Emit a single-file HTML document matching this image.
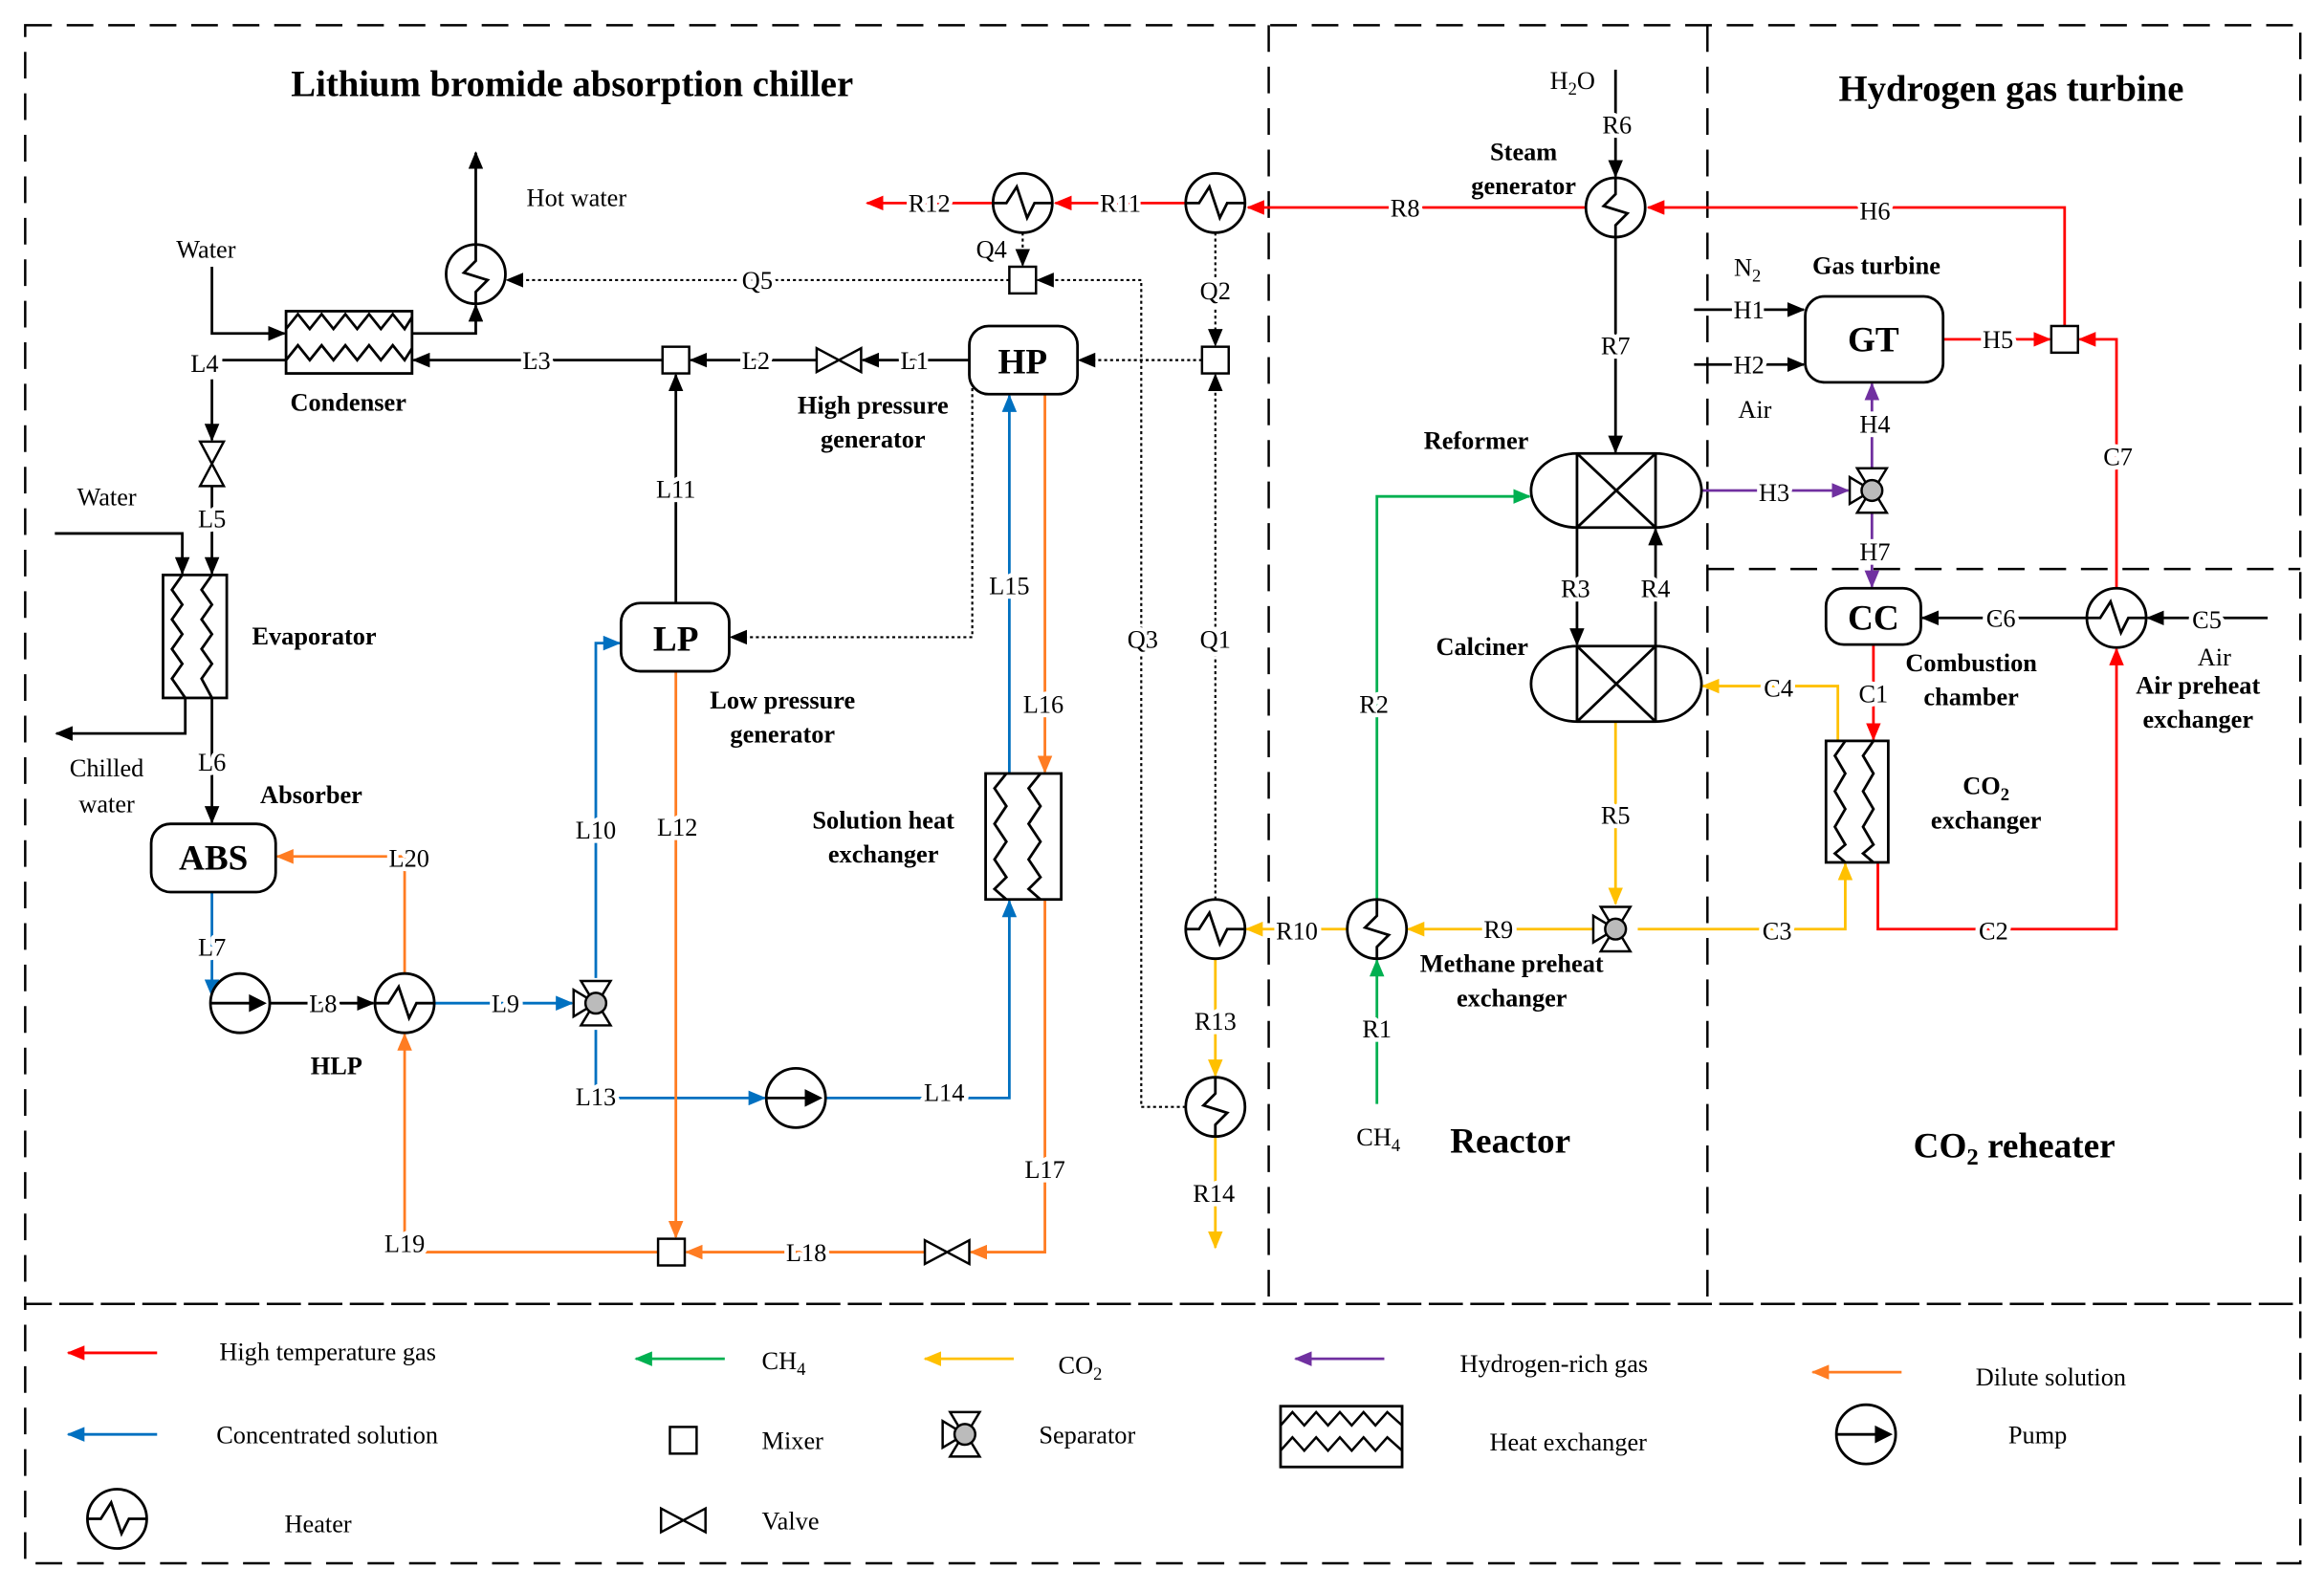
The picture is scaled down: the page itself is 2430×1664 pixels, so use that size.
<!DOCTYPE html>
<html><head><meta charset="utf-8"><style>
html,body{margin:0;padding:0;background:#fff}
svg{display:block}
text{font-family:"Liberation Serif",serif;font-size:17px;fill:#000}
.b{font-weight:bold}
.lb text{paint-order:stroke;stroke:#fff;stroke-width:6px;stroke-linejoin:round}
</style></head><body>
<svg width="2430" height="1664" viewBox="0 0 1568 1073.7" xmlns="http://www.w3.org/2000/svg">
<defs>
<marker id="ak" markerWidth="12" markerHeight="10" refX="11" refY="5" orient="auto" markerUnits="userSpaceOnUse"><path d="M0,0 L12,5 L0,10 Z" fill="#000"/></marker>
<marker id="ar" markerWidth="12" markerHeight="10" refX="11" refY="5" orient="auto" markerUnits="userSpaceOnUse"><path d="M0,0 L12,5 L0,10 Z" fill="#f00"/></marker>
<marker id="ab" markerWidth="12" markerHeight="10" refX="11" refY="5" orient="auto" markerUnits="userSpaceOnUse"><path d="M0,0 L12,5 L0,10 Z" fill="#0070c0"/></marker>
<marker id="ao" markerWidth="12" markerHeight="10" refX="11" refY="5" orient="auto" markerUnits="userSpaceOnUse"><path d="M0,0 L12,5 L0,10 Z" fill="#ff7c22"/></marker>
<marker id="ay" markerWidth="12" markerHeight="10" refX="11" refY="5" orient="auto" markerUnits="userSpaceOnUse"><path d="M0,0 L12,5 L0,10 Z" fill="#ffc000"/></marker>
<marker id="ag" markerWidth="12" markerHeight="10" refX="11" refY="5" orient="auto" markerUnits="userSpaceOnUse"><path d="M0,0 L12,5 L0,10 Z" fill="#00b050"/></marker>
<marker id="ap" markerWidth="12" markerHeight="10" refX="11" refY="5" orient="auto" markerUnits="userSpaceOnUse"><path d="M0,0 L12,5 L0,10 Z" fill="#7030a0"/></marker>
<g id="ht"><circle r="20" fill="#fff" stroke="#000" stroke-width="1.8"/><path d="M-20,0 H-11 L-4,-11 L3,10 L8,0 H20" fill="none" stroke="#000" stroke-width="1.8"/></g>
<g id="hs"><circle r="20" fill="#fff" stroke="#000" stroke-width="1.8"/><path d="M0,-20 L0,-9 L-8,-1 L8,4 L0,12 L0,20" fill="none" stroke="#000" stroke-width="1.8"/></g>
<g id="mx"><rect x="-9" y="-9" width="18" height="18" fill="#fff" stroke="#000" stroke-width="1.6"/></g>
<g id="vh"><path d="M-15,-8 L-15,8 L15,-8 L15,8 Z" fill="#fff" stroke="#000" stroke-width="1.6"/></g>
<g id="vv"><path d="M-8,-15 L8,-15 L-8,15 L8,15 Z" fill="#fff" stroke="#000" stroke-width="1.6"/></g>
<g id="sp"><path d="M-10,-15 L10,-15 L4,-5 L-4,-5 Z M-10,15 L10,15 L4,5 L-4,5 Z M-15,-9 L-15,9 L-5,3 L-5,-3 Z" fill="#fff" stroke="#000" stroke-width="1.6"/><circle r="7" fill="#bbb" stroke="#000" stroke-width="1.6"/></g>
<g id="pp"><circle r="20" fill="#fff" stroke="#000" stroke-width="1.8"/><path d="M-20,0 L8,0" stroke="#000" stroke-width="1.8"/><path d="M6,-6 L18,0 L6,6 Z" fill="#000"/></g>
</defs>
<g fill="none" stroke="#000" stroke-width="1.6" stroke-dasharray="18,10">
<rect x="17" y="17" width="1535" height="863"/>
<path d="M856,17 V880 M1152,17 V880 M1152,384 H1552"/>
<rect x="17" y="880" width="1535" height="175"/>
</g>
<g fill="none" stroke-width="1.8">
<g stroke="#f00">
<path d="M1393,220 V140 H1112" marker-end="url(#ar)"/>
<path d="M1070,140 H842" marker-end="url(#ar)"/>
<path d="M800,137 H712" marker-end="url(#ar)"/>
<path d="M670,137 H585" marker-end="url(#ar)"/>
<path d="M1311,229 H1383" marker-end="url(#ar)"/>
<path d="M1428,397 V229 H1403" marker-end="url(#ar)"/>
<path d="M1267,582 V627 H1428 V438" marker-end="url(#ar)"/>
<path d="M1264,435 V499" marker-end="url(#ar)"/>
</g>
<g stroke="#000">
<path d="M1090,47 V119" marker-end="url(#ak)"/>
<path d="M1090,160 V305" marker-end="url(#ak)"/>
<path d="M1064,356 V435" marker-end="url(#ak)"/>
<path d="M1117,436 V357" marker-end="url(#ak)"/>
<path d="M1408,417 H1297" marker-end="url(#ak)"/>
<path d="M1530,417 H1449" marker-end="url(#ak)"/>
<path d="M1143,209 H1217" marker-end="url(#ak)"/>
<path d="M1143,246 H1217" marker-end="url(#ak)"/>
<path d="M447,243 H279" marker-end="url(#ak)"/>
<path d="M551,243 H466" marker-end="url(#ak)"/>
<path d="M654,243 H582" marker-end="url(#ak)"/>
<path d="M456,407 V253" marker-end="url(#ak)"/>
<path d="M143,180 V225 H192" marker-end="url(#ak)"/>
<path d="M278,225 H321 V206" marker-end="url(#ak)"/>
<path d="M321,165 V103" marker-end="url(#ak)"/>
<path d="M193,243 H150"/>
<path d="M143,256 V297" marker-end="url(#ak)"/>
<path d="M143,328 V343 M143,356 V387" marker-end="url(#ak)"/>
<path d="M37,360 H123 V387" marker-end="url(#ak)"/>
<path d="M125,471 V495 H38" marker-end="url(#ak)"/>
<path d="M143,471 V555" marker-end="url(#ak)"/>
<path d="M182,677 H252" marker-end="url(#ak)"/>
</g>
<g stroke="#000" stroke-width="1.4" stroke-dasharray="2,2">
<path d="M820,157 V233" marker-end="url(#ak)"/>
<path d="M820,607 V253" marker-end="url(#ak)"/>
<path d="M811,243 H728" marker-end="url(#ak)"/>
<path d="M656,258 V430 H493" marker-end="url(#ak)"/>
<path d="M800,747 H770 V189 H700" marker-end="url(#ak)"/>
<path d="M690,157 V179" marker-end="url(#ak)"/>
<path d="M681,189 H342" marker-end="url(#ak)"/>
</g>
<g stroke="#0070c0">
<path d="M293,677 H386" marker-end="url(#ab)"/>
<path d="M143,602 V672" marker-end="url(#ab)"/>
<path d="M402,660 V434 H418" marker-end="url(#ab)"/>
<path d="M402,695 V741 H516" marker-end="url(#ab)"/>
<path d="M557,741 H681 V608" marker-end="url(#ab)"/>
<path d="M681,522 V267" marker-end="url(#ab)"/>
</g>
<g stroke="#ff7c22">
<path d="M705,266 V521" marker-end="url(#ao)"/>
<path d="M705,607 V845 H655" marker-end="url(#ao)"/>
<path d="M624,845 H463" marker-end="url(#ao)"/>
<path d="M456,453 V835" marker-end="url(#ao)"/>
<path d="M444,845 H273 V698" marker-end="url(#ao)"/>
<path d="M273,657 V578 H187" marker-end="url(#ao)"/>
</g>
<g stroke="#00b050">
<path d="M929,745 V648" marker-end="url(#ag)"/>
<path d="M929,607 V335 H1032" marker-end="url(#ag)"/>
</g>
<g stroke="#ffc000">
<path d="M820,647 V726" marker-end="url(#ay)"/>
<path d="M820,767 V842" marker-end="url(#ay)"/>
<path d="M1090,487 V610" marker-end="url(#ay)"/>
<path d="M1075,627 H950" marker-end="url(#ay)"/>
<path d="M909,627 H841" marker-end="url(#ay)"/>
<path d="M1105,627 H1245 V583" marker-end="url(#ay)"/>
<path d="M1240,500 V463 H1149" marker-end="url(#ay)"/>
</g>
<g stroke="#7030a0">
<path d="M1148,331 H1247" marker-end="url(#ap)"/>
<path d="M1263,316 V259" marker-end="url(#ap)"/>
<path d="M1263,346 V396" marker-end="url(#ap)"/>
</g>
</g>
<use href="#hs" x="321" y="185"/>
<use href="#ht" x="690" y="137"/>
<use href="#ht" x="820" y="137"/>
<use href="#hs" x="1090" y="140"/>
<use href="#ht" x="273" y="677"/>
<use href="#ht" x="820" y="627"/>
<use href="#hs" x="929" y="627"/>
<use href="#hs" x="820" y="747"/>
<use href="#ht" x="1428" y="417"/>
<use href="#mx" x="456" y="243"/>
<use href="#mx" x="690" y="189"/>
<use href="#mx" x="820" y="243"/>
<use href="#mx" x="1393" y="229"/>
<use href="#mx" x="453" y="845"/>
<use href="#vh" x="566" y="243"/>
<use href="#vv" x="143" y="313"/>
<use href="#vh" x="639" y="845"/>
<use href="#sp" x="402" y="677"/>
<use href="#sp" x="1090" y="627"/>
<use href="#sp" x="1263" y="331"/>
<use href="#pp" x="162" y="677"/>
<use href="#pp" x="537" y="741"/>
<g fill="#fff" stroke="#000" stroke-width="1.8">
<rect x="193" y="210" width="85" height="42"/>
<rect x="110" y="388" width="43" height="83"/>
<rect x="665" y="522" width="51" height="85"/>
<rect x="1232" y="500" width="42" height="82"/>
<rect x="654" y="220" width="73" height="46" rx="13"/>
<rect x="419" y="407" width="73" height="46" rx="13"/>
<rect x="102" y="556" width="84" height="46" rx="13"/>
<rect x="1218" y="200" width="93" height="58" rx="13"/>
<rect x="1232" y="397" width="64" height="38" rx="12"/>
<path d="M1064,306 H1117 A31,25 0 0 1 1117,356 H1064 A31,25 0 0 1 1064,306 Z"/>
<path d="M1064,436 H1117 A31,25.5 0 0 1 1117,487 H1064 A31,25.5 0 0 1 1064,436 Z"/>
</g>
<g fill="none" stroke="#000" stroke-width="1.8">
<path d="M1064,306 V356 M1117,306 V356 M1064,306 L1117,356 M1117,306 L1064,356"/>
<path d="M1064,436 V487 M1117,436 V487 M1064,436 L1117,487 M1117,436 L1064,487"/>
<path d="M193,222 L201,212 L209,222 L217,212 L225,222 L233,212 L241,222 L249,212 L257,222 L265,212 L273,222 L278,214"/>
<path d="M193,243 L201,233 L209,243 L217,233 L225,243 L233,233 L241,243 L249,233 L257,243 L265,233 L273,243 L278,235"/>
<path d="M123,388 L116,398 L123,408 L116,418 L123,428 L116,438 L123,448 L116,458 L125,471"/>
<path d="M143,388 L136,398 L143,408 L136,418 L143,428 L136,438 L143,448 L136,458 L143,471"/>
<path d="M679,522 L671,532 L679,544 L671,556 L679,568 L671,580 L679,592 L671,600 L679,607"/>
<path d="M702,522 L694,532 L702,544 L694,556 L702,568 L694,580 L702,592 L694,600 L702,607"/>
<path d="M1245,500 L1238,510 L1245,522 L1238,534 L1245,546 L1238,558 L1245,570 L1238,576 L1245,582"/>
<path d="M1264,500 L1257,510 L1264,522 L1257,534 L1264,546 L1257,558 L1264,570 L1257,576 L1264,582"/>
</g>
<g text-anchor="middle">
<text x="690" y="252" style="font-size:24px;font-weight:bold">HP</text>
<text x="456" y="439" style="font-size:24px;font-weight:bold">LP</text>
<text x="144" y="587" style="font-size:24px;font-weight:bold">ABS</text>
<text x="1264" y="237" style="font-size:24px;font-weight:bold">GT</text>
<text x="1264" y="425" style="font-size:24px;font-weight:bold">CC</text>
</g>
<text x="386" y="65" text-anchor="middle" class="b" style="font-size:25px">Lithium bromide absorption chiller</text>
<text x="1357" y="68" text-anchor="middle" class="b" style="font-size:25px">Hydrogen gas turbine</text>
<text x="1019" y="778" text-anchor="middle" class="b" style="font-size:24px">Reactor</text>
<text x="1359" y="781" text-anchor="middle" class="b" style="font-size:24px">CO<tspan font-size="16" dy="5">2</tspan><tspan dy="-5"> reheater</tspan></text>
<g class="b" text-anchor="middle">
<text x="235" y="277">Condenser</text>
<text x="212" y="435">Evaporator</text>
<text x="210" y="542">Absorber</text>
<text x="227" y="725">HLP</text>
<text x="589" y="279">High pressure</text>
<text x="589" y="302">generator</text>
<text x="528" y="478">Low pressure</text>
<text x="528" y="501">generator</text>
<text x="596" y="559">Solution heat</text>
<text x="596" y="582">exchanger</text>
<text x="1028" y="108">Steam</text>
<text x="1028" y="131">generator</text>
<text x="1266" y="185">Gas turbine</text>
<text x="996" y="303">Reformer</text>
<text x="1000" y="442">Calciner</text>
<text x="1330" y="453">Combustion</text>
<text x="1330" y="476">chamber</text>
<text x="1340" y="536">CO<tspan font-size="12" dy="4">2</tspan></text>
<text x="1340" y="559">exchanger</text>
<text x="1483" y="468">Air preheat</text>
<text x="1483" y="491">exchanger</text>
<text x="1020" y="656">Methane preheat</text>
<text x="1020" y="679">exchanger</text>
</g>
<g text-anchor="middle">
<text x="389" y="139">Hot  water</text>
<text x="139" y="174">Water</text>
<text x="72" y="341">Water</text>
<text x="72" y="524">Chilled</text>
<text x="72" y="548">water</text>
<text x="1061" y="60">H<tspan font-size="12" dy="4">2</tspan><tspan dy="-4">O</tspan></text>
<text x="1179" y="186">N<tspan font-size="12" dy="4">2</tspan></text>
<text x="1184" y="282">Air</text>
<text x="1494" y="449">Air</text>
<text x="930" y="773">CH<tspan font-size="12" dy="4">4</tspan></text>
</g>
<g class="lb" text-anchor="middle">
<text x="627" y="143">R12</text><text x="756" y="143">R11</text><text x="948" y="146">R8</text>
<text x="1265" y="148">H6</text><text x="1091" y="90">R6</text><text x="1090" y="239">R7</text>
<text x="669" y="174">Q4</text><text x="511" y="195">Q5</text><text x="820" y="202">Q2</text>
<text x="362" y="249">L3</text><text x="510" y="249">L2</text><text x="617" y="249">L1</text>
<text x="138" y="251">L4</text><text x="143" y="356">L5</text><text x="456" y="336">L11</text>
<text x="1180" y="215">H1</text><text x="1180" y="252">H2</text><text x="1348" y="235">H5</text>
<text x="1265" y="292">H4</text><text x="1197" y="338">H3</text><text x="1265" y="378">H7</text>
<text x="1429" y="314">C7</text><text x="1063" y="403">R3</text><text x="1117" y="403">R4</text>
<text x="1350" y="423">C6</text><text x="1489" y="424">C5</text><text x="1200" y="470">C4</text>
<text x="1264" y="474">C1</text><text x="927" y="481">R2</text><text x="1090" y="556">R5</text>
<text x="681" y="401">L15</text><text x="704" y="481">L16</text><text x="771" y="437">Q3</text>
<text x="820" y="437">Q1</text><text x="402" y="566">L10</text><text x="457" y="564">L12</text>
<text x="143" y="520">L6</text><text x="276" y="585">L20</text><text x="143" y="645">L7</text>
<text x="218" y="683">L8</text><text x="341" y="683">L9</text><text x="402" y="746">L13</text>
<text x="637" y="743">L14</text><text x="875" y="634">R10</text><text x="1011" y="633">R9</text>
<text x="1199" y="634">C3</text><text x="1345" y="634">C2</text><text x="929" y="700">R1</text>
<text x="820" y="695">R13</text><text x="819" y="811">R14</text><text x="705" y="795">L17</text>
<text x="544" y="851">L18</text><text x="273" y="845">L19</text>
</g>
<g fill="none" stroke-width="1.8">
<path d="M106,913 H46" stroke="#f00" marker-end="url(#ar)"/>
<path d="M106,968 H46" stroke="#0070c0" marker-end="url(#ab)"/>
<path d="M489,917 H429" stroke="#00b050" marker-end="url(#ag)"/>
<path d="M684,917 H624" stroke="#ffc000" marker-end="url(#ay)"/>
<path d="M934,917 H874" stroke="#7030a0" marker-end="url(#ap)"/>
<path d="M1283,926 H1223" stroke="#ff7c22" marker-end="url(#ao)"/>
</g>
<use href="#mx" x="461" y="972"/>
<use href="#sp" x="651" y="968"/>
<use href="#ht" x="79" y="1025"/>
<use href="#vh" x="461" y="1026"/>
<use href="#pp" x="1259" y="968"/>
<rect x="864" y="949" width="82" height="41" fill="#fff" stroke="#000" stroke-width="1.8"/>
<path d="M864,962 L872,953 L880,962 L888,953 L896,962 L904,953 L912,962 L920,953 L928,962 L936,953 L946,962 M864,979 L872,970 L880,979 L888,970 L896,979 L904,970 L912,979 L920,970 L928,979 L936,970 L946,979" fill="none" stroke="#000" stroke-width="1.6"/>
<text x="148" y="918">High temperature gas</text>
<text x="146" y="974">Concentrated solution</text>
<text x="192" y="1034">Heater</text>
<text x="514" y="924">CH<tspan font-size="12" dy="4">4</tspan></text>
<text x="714" y="927">CO<tspan font-size="12" dy="4">2</tspan></text>
<text x="985" y="926">Hydrogen-rich gas</text>
<text x="1333" y="935">Dilute solution</text>
<text x="514" y="978">Mixer</text>
<text x="701" y="974">Separator</text>
<text x="1005" y="979">Heat exchanger</text>
<text x="1355" y="974">Pump</text>
<text x="514" y="1032">Valve</text>
</svg>
</body></html>
